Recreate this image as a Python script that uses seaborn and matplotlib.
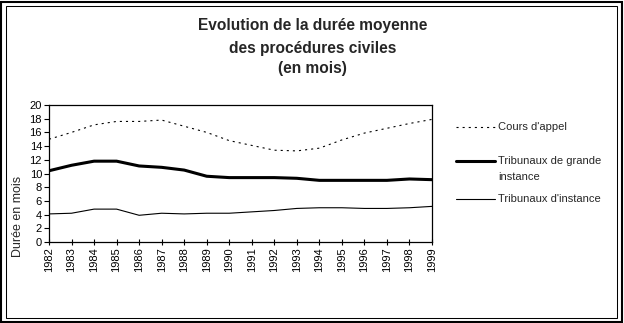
import matplotlib
matplotlib.use("Agg")
import matplotlib.pyplot as plt
from matplotlib.lines import Line2D
from matplotlib.patches import Rectangle
import seaborn as sns
import pandas as pd

# Average duration of civil proceedings, in months
years = list(range(1982, 2000))
cours_appel = [15.0, 16.0, 17.1, 17.6, 17.6, 17.8, 16.9, 16.0, 14.8, 14.1,
               13.4, 13.3, 13.7, 14.9, 15.9, 16.6, 17.3, 17.9]
grande_instance = [10.4, 11.2, 11.8, 11.8, 11.1, 10.9, 10.5, 9.6, 9.4, 9.4,
                   9.4, 9.3, 9.0, 9.0, 9.0, 9.0, 9.2, 9.1]
tribunaux_instance = [4.1, 4.2, 4.8, 4.8, 3.9, 4.2, 4.1, 4.2, 4.2, 4.4,
                      4.6, 4.9, 5.0, 5.0, 4.9, 4.9, 5.0, 5.2]
series_names = ["Cours d'appel", "Tribunaux de grande\ninstance",
                "Tribunaux d'instance"]
y_ticks = list(range(0, 21, 2))

sns.set_theme(style="white")
plt.rcParams["font.family"] = ["Liberation Sans", "DejaVu Sans"]
plt.rcParams["lines.scale_dashes"] = False

W, H = 624, 323
fig = plt.figure(figsize=(W / 100, H / 100), dpi=100)
fig.patch.set_facecolor("white")

def fx(px):
    return px / W

def fy(py):
    return 1 - py / H

# double frame around the chart
fig.add_artist(Rectangle((fx(1), fy(322)), fx(621), 320 / H, fill=False,
                         edgecolor="black", linewidth=1.5,
                         transform=fig.transFigure))
fig.add_artist(Rectangle((fx(5.5), fy(317.5)), fx(611.5), 312 / H, fill=False,
                         edgecolor="black", linewidth=0.75,
                         transform=fig.transFigure))

ax = fig.add_axes([fx(49), fy(242), fx(432 - 49), (242 - 105) / H])

df = pd.DataFrame({
    "year": years * 3,
    "value": cours_appel + grande_instance + tribunaux_instance,
    "series": [series_names[0]] * len(years) + [series_names[1]] * len(years)
              + [series_names[2]] * len(years),
})

styles = {
    series_names[0]: dict(lw=0.8, ls=(0, (1.5, 2.9))),
    series_names[1]: dict(lw=2.2, ls="-"),
    series_names[2]: dict(lw=0.8, ls="-"),
}
for name in series_names:
    sub = df[df["series"] == name]
    sns.lineplot(data=sub, x="year", y="value", ax=ax, color="black",
                 linewidth=styles[name]["lw"], linestyle=styles[name]["ls"],
                 legend=False)

ax.set_xlim(years[0], years[-1])
ax.set_ylim(0, 20)
ax.set_yticks(y_ticks)
ax.set_xticks(years)
ax.set_xticklabels([str(y) for y in years], rotation=90, fontsize=8)
ax.set_yticklabels([str(v) for v in y_ticks], fontsize=8)
ax.set_xlabel("")
ax.set_ylabel("")
for sp in ax.spines.values():
    sp.set_visible(True)
    sp.set_color("black")
    sp.set_linewidth(0.9)
ax.tick_params(axis="y", direction="out", length=3.5, width=0.8,
               color="black", left=True, pad=1.5, labelcolor="black")
ax.tick_params(axis="x", direction="inout", length=5, width=0.8,
               color="black", bottom=True, pad=1.5, labelcolor="black")
ax.set_facecolor("white")

# y label
fig.text(fx(18), fy(216), "Durée en mois", rotation=90, fontsize=9,
         ha="center", va="center")

# title
for txt, base in [("Evolution de la durée moyenne", 30),
                  ("des procédures civiles", 52.5),
                  ("(en mois)", 73)]:
    fig.text(fx(312.5), fy(base), txt, fontsize=11.2, fontweight="bold",
             ha="center", va="baseline")

# legend
legend_rows = [
    (127, series_names[0], [(127, "Cours d'appel")]),
    (161, series_names[1], [(161, "Tribunaux de grande"), (177.5, "instance")]),
    (199, series_names[2], [(199, "Tribunaux d'instance")]),
]
for ly, name, lines in legend_rows:
    fig.add_artist(Line2D([fx(456), fx(495)], [fy(ly), fy(ly)], color="black",
                          linewidth=styles[name]["lw"],
                          linestyle=styles[name]["ls"],
                          transform=fig.transFigure))
    for ty, txt in lines:
        fig.text(fx(498), fy(ty), txt, fontsize=8, ha="left", va="center")

fig.savefig("out.png", dpi=100, facecolor="white")
